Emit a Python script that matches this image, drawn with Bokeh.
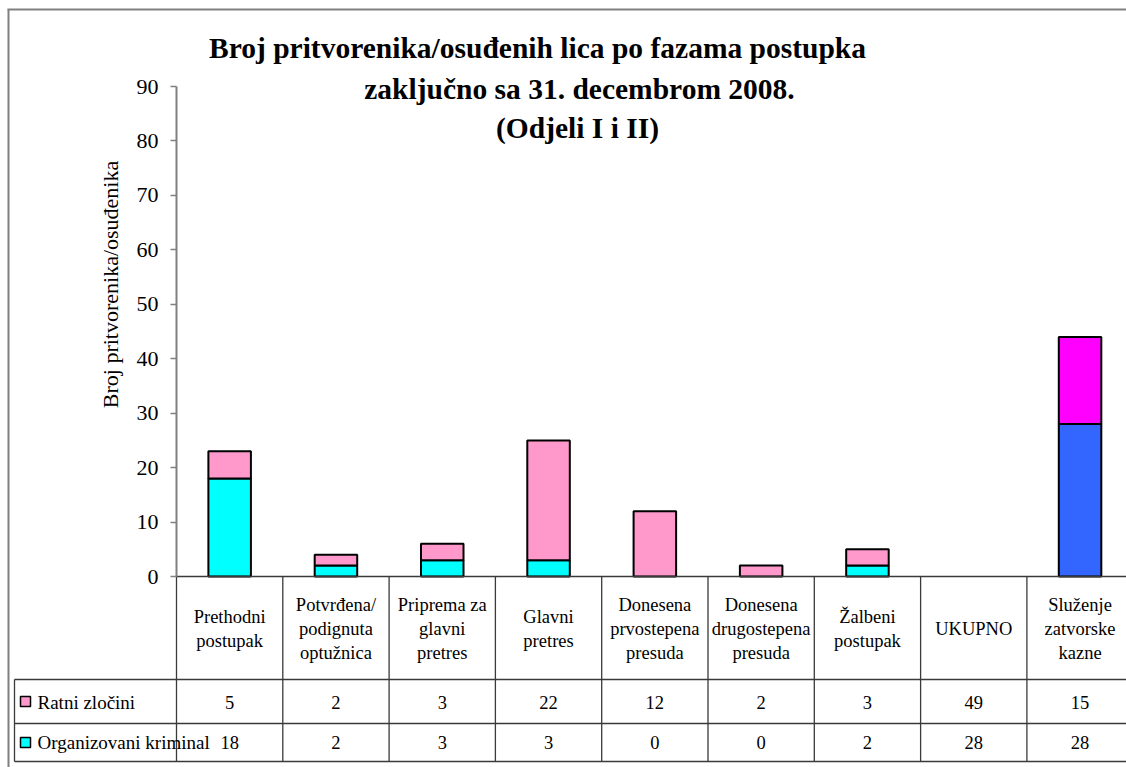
import math
from bokeh.plotting import figure
from bokeh.models import Range1d, LinearAxis, FixedTicker
from bokeh.embed import file_html
from bokeh.resources import INLINE
from bokeh.core.properties import value

# ---------------- data ----------------
categories = ["Prethodni\npostupak", "Potvrđena/\npodignuta\noptužnica",
              "Priprema za\nglavni\npretres", "Glavni\npretres",
              "Donesena\nprvostepena\npresuda", "Donesena\ndrugostepena\npresuda",
              "Žalbeni\npostupak", "UKUPNO", "Služenje\nzatvorske\nkazne"]
series_names = ["Ratni zločini", "Organizovani kriminal"]
table_ratni = [5, 2, 3, 22, 12, 2, 3, 49, 15]
table_org = [18, 2, 3, 3, 0, 0, 2, 28, 28]
# heights of the drawn bars (UKUPNO is not drawn)
bar_org = [18, 2, 3, 3, 0, 0, 2, 0, 28]
bar_ratni = [5, 2, 3, 22, 12, 2, 3, 0, 16]
y_ticks = [0, 10, 20, 30, 40, 50, 60, 70, 80, 90]
title_lines = ["Broj pritvorenika/osuđenih lica po fazama postupka",
               "zaključno sa 31. decembrom 2008.",
               "(Odjeli I i II)"]
y_label = "Broj pritvorenika/osuđenika"

# ---------------- styles ----------------
org_colors = ["#00FFFF"] * 8 + ["#3366FF"]
ratni_colors = ["#FF99CC"] * 8 + ["#FF00FF"]
FONT = "Liberation Serif"

# ---------------- layout helpers (page pixels -> data) ----------------
W, H = 1126, 767
AX_X = 176.0      # page x of the value axis
COL = 106.3       # pixels per category
Y0 = 576.0        # page y of value 0
PPU = 5.444       # pixels per value unit


def X(px):
    return -0.5 + (px - AX_X) / COL


def Y(py):
    return (Y0 - py) / PPU


p = figure(width=W, height=H, x_range=Range1d(X(0), X(W)),
           y_range=Range1d(Y(H), Y(0)), output_backend="svg",
           toolbar_location=None, x_axis_location=None, y_axis_location=None,
           min_border=0, min_border_left=0, min_border_right=0,
           min_border_top=0, min_border_bottom=0, outline_line_color=None,
           background_fill_color="white")
p.grid.visible = False

# outer chart border (left and top visible)
p.segment(x0=[X(8), X(7)], y0=[Y(767), Y(9)], x1=[X(8), X(1126)], y1=[Y(9), Y(9)],
          line_color="#808080", line_width=2)

# y axis at the left edge of the plot area
yaxis = LinearAxis(ticker=FixedTicker(ticks=y_ticks), fixed_location=-0.5,
                   bounds=(0, 90), axis_line_color="#808080", axis_line_width=2,
                   major_tick_line_color="#808080", major_tick_line_width=1.5,
                   major_tick_in=0, major_tick_out=6,
                   minor_tick_line_color=None, major_label_standoff=12,
                   major_label_text_font=FONT, major_label_text_font_size="22px",
                   major_label_text_color="black")
p.add_layout(yaxis, "left")

# y axis title
p.text(x=[X(110)], y=[Y(284)], text=[y_label], angle=math.pi / 2,
       text_font=value(FONT), text_font_size="22px", text_align="center",
       text_baseline="middle", text_color="black")

# bars
idx = list(range(len(categories)))
ob = [(i, v, c) for i, v, c in zip(idx, bar_org, org_colors) if v > 0]
p.vbar(x=[t[0] for t in ob], width=0.4, bottom=0, top=[t[1] for t in ob],
       fill_color=[t[2] for t in ob], line_color="black", line_width=2)
rb = [(i, o, v, c) for i, o, v, c in zip(idx, bar_org, bar_ratni, ratni_colors) if v > 0]
p.vbar(x=[t[0] for t in rb], width=0.4, bottom=[t[1] for t in rb],
       top=[t[1] + t[2] for t in rb],
       fill_color=[t[3] for t in rb], line_color="black", line_width=2)

# data table grid
TAB_ROWS = [679, 723, 761]
LINE_C = "#3a3a3a"
p.segment(x0=[X(176)], y0=[Y(576)], x1=[X(1126)], y1=[Y(576)],
          line_color=LINE_C, line_width=1.5)
p.segment(x0=[X(14)] * 3, y0=[Y(r) for r in TAB_ROWS],
          x1=[X(1126)] * 3, y1=[Y(r) for r in TAB_ROWS],
          line_color=LINE_C, line_width=1.3)
bx = [i - 0.5 for i in range(len(categories) + 1)]
p.segment(x0=bx, y0=[Y(576)] * len(bx), x1=bx, y1=[Y(761)] * len(bx),
          line_color=LINE_C, line_width=1.3)
p.segment(x0=[X(14)], y0=[Y(679)], x1=[X(14)], y1=[Y(761)],
          line_color=LINE_C, line_width=1.3)

# category labels
p.text(x=idx, y=[Y(628)] * len(idx), text=categories, text_font=value(FONT),
       text_font_size="18.5px", text_align="center", text_baseline="middle",
       text_line_height=1.2, text_color="black")

# table values
p.text(x=idx, y=[Y(702)] * len(idx), text=[str(v) for v in table_ratni],
       text_font=value(FONT), text_font_size="18.5px", text_align="center",
       text_baseline="middle", text_color="black")
p.text(x=idx, y=[Y(742)] * len(idx), text=[str(v) for v in table_org],
       text_font=value(FONT), text_font_size="18.5px", text_align="center",
       text_baseline="middle", text_color="black")

# legend keys in table
p.scatter(x=[X(25), X(25)], y=[Y(701), Y(742)], marker="square", size=10,
          fill_color=[ratni_colors[0], org_colors[0]], line_color="black",
          line_width=1.5)
p.text(x=[X(37), X(37)], y=[Y(702), Y(742)], text=series_names,
       text_font=value(FONT), text_font_size="19px", text_align="left",
       text_baseline="middle", text_color="black")

# title
p.text(x=[X(537), X(579), X(577)], y=[Y(47), Y(88), Y(127)], text=title_lines,
       text_font=value(FONT), text_font_style="bold", text_font_size="29.5px",
       text_align="center", text_baseline="middle", text_color="black")

open("out.html", "w").write(file_html(p, INLINE))
